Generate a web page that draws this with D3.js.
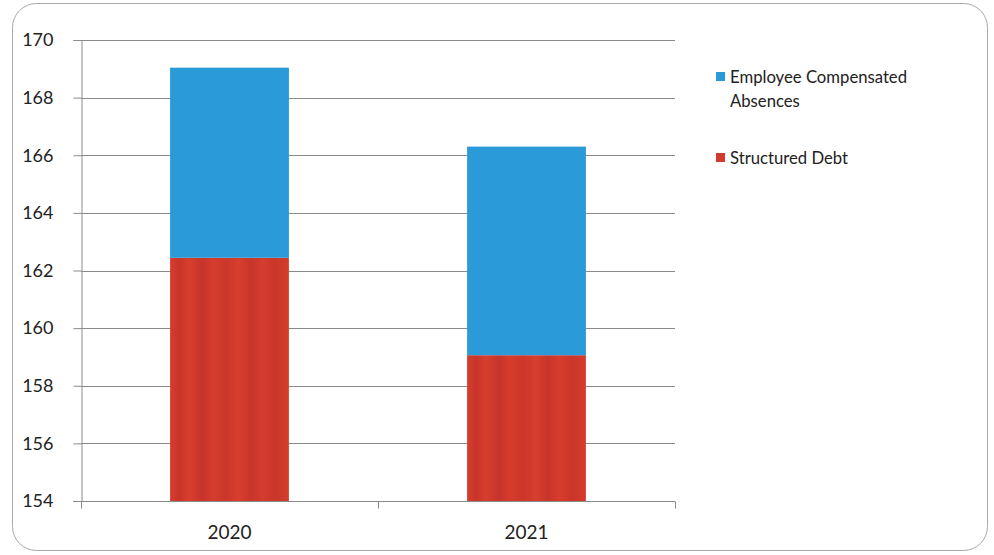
<!DOCTYPE html>
<html>
<head>
<meta charset="utf-8">
<script src="https://cdn.jsdelivr.net/npm/d3@7/dist/d3.min.js"></script>
<style>
  html, body { margin: 0; padding: 0; background: #ffffff; }
  svg { display: block; }
  text { font-family: Lato, "Open Sans", "Noto Sans", sans-serif; fill: #222; }
</style>
</head>
<body>
<svg id="chart" width="994" height="555"></svg>
<script>
// Years on the category axis
const years = ["2020", "2021"];
// Stacked series (bottom to top)
const structuredDebt = [162.44, 159.06];
const compensatedAbsences = [6.6, 7.24];
const seriesNames = ["Structured Debt", "Employee Compensated Absences"];
const seriesColors = ["#d23a2b", "#2b9ad8"];
// Value axis ticks
const yTicks = [154, 156, 158, 160, 162, 164, 166, 168, 170];

const svg = d3.select("#chart");
const defs = svg.append("defs");

// Slightly streaked red fill for the debt segments
const streak = defs.append("linearGradient")
  .attr("id", "redStreak")
  .attr("x1", "0%").attr("x2", "100%").attr("y1", "0%").attr("y2", "0%");
[[0, "#d53c2c"], [0.08, "#c9352a"], [0.16, "#d83e2d"], [0.27, "#c6342b"], [0.36, "#d63c2c"],
 [0.47, "#cb372a"], [0.58, "#d83e2d"], [0.68, "#c7352a"], [0.78, "#d63c2c"], [0.88, "#ca362a"], [1, "#d53c2c"]]
  .forEach(([o, c]) => streak.append("stop").attr("offset", o).attr("stop-color", c));
const fills = ["url(#redStreak)", seriesColors[1]];

// Rounded frame
svg.append("rect")
  .attr("x", 12.5).attr("y", 3.5)
  .attr("width", 975).attr("height", 547)
  .attr("rx", 24).attr("ry", 24)
  .attr("fill", "#fff").attr("stroke", "#a8a8a8").attr("stroke-width", 1);

const plot = { left: 81, right: 675, top: 40, bottom: 501 };

const x = d3.scaleBand().domain(years).range([plot.left, plot.right]).paddingInner(0.6).paddingOuter(0.3);
const xOuter = d3.scaleBand().domain(years).range([plot.left, plot.right]);
const y = d3.scaleLinear().domain([154, 170]).range([plot.bottom, plot.top]);

// Horizontal gridlines
svg.append("g")
  .selectAll("line")
  .data(yTicks.slice(1))
  .join("line")
  .attr("x1", plot.left).attr("x2", plot.right)
  .attr("y1", d => Math.round(y(d)) + 0.5).attr("y2", d => Math.round(y(d)) + 0.5)
  .attr("stroke", "#8a8a8a").attr("stroke-width", 1);

// Stacked bars
const rows = years.map((yr, i) => ({ year: yr, "Structured Debt": structuredDebt[i], "Employee Compensated Absences": compensatedAbsences[i] }));
const stack = d3.stack().keys(seriesNames)(rows);

svg.append("g")
  .selectAll("g")
  .data(stack)
  .join("g")
  .attr("fill", (d, i) => fills[i])
  .selectAll("rect")
  .data(d => d)
  .join("rect")
  .attr("x", d => x(d.data.year))
  .attr("width", x.bandwidth())
  .attr("y", d => y(d[1]))
  .attr("height", d => y(Math.max(d[0], 154)) - y(d[1]));

// Y axis
const yAxis = d3.axisLeft(y).tickValues(yTicks).tickSize(8).tickPadding(20);
const gy = svg.append("g").attr("transform", `translate(${plot.left + 0.5},0)`).call(yAxis);
gy.select(".domain").attr("stroke", "#8a8a8a");
gy.selectAll(".tick line").attr("stroke", "#8a8a8a");
gy.selectAll(".tick text").attr("font-size", 18).attr("fill", "#222")
  .style("font-family", "Lato, 'Open Sans', sans-serif");

// X axis: baseline plus category boundary ticks
const gx = svg.append("g").attr("transform", `translate(0,${plot.bottom + 0.5})`);
gx.append("line").attr("x1", plot.left - 8).attr("x2", plot.right).attr("stroke", "#8a8a8a");
const bounds = [plot.left, ...years.map(d => xOuter(d) + xOuter.bandwidth())];
gx.selectAll(".bt").data(bounds).join("line")
  .attr("class", "bt")
  .attr("x1", d => Math.round(d) + 0.5).attr("x2", d => Math.round(d) + 0.5)
  .attr("y1", 0).attr("y2", 7)
  .attr("stroke", "#8a8a8a");
gx.selectAll(".lbl").data(years).join("text")
  .attr("class", "lbl")
  .attr("x", d => xOuter(d) + xOuter.bandwidth() / 2)
  .attr("y", 37)
  .attr("text-anchor", "middle")
  .attr("font-size", 19)
  .text(d => d);

// Legend
const legend = svg.append("g").attr("transform", "translate(716,0)");
const legendItems = [
  { lines: ["Employee Compensated", "Absences"], color: seriesColors[1], y: 83 },
  { lines: ["Structured Debt"], color: seriesColors[0], y: 164 }
];
legendItems.forEach(item => {
  legend.append("rect").attr("x", 0).attr("y", item.y - 11).attr("width", 9).attr("height", 9).attr("fill", item.color);
  const t = legend.append("text").attr("x", 14).attr("y", item.y).attr("font-size", 16.7);
  item.lines.forEach((ln, k) => {
    t.append("tspan").attr("x", 14).attr("dy", k === 0 ? 0 : 24).text(ln);
  });
});
</script>
</body>
</html>
